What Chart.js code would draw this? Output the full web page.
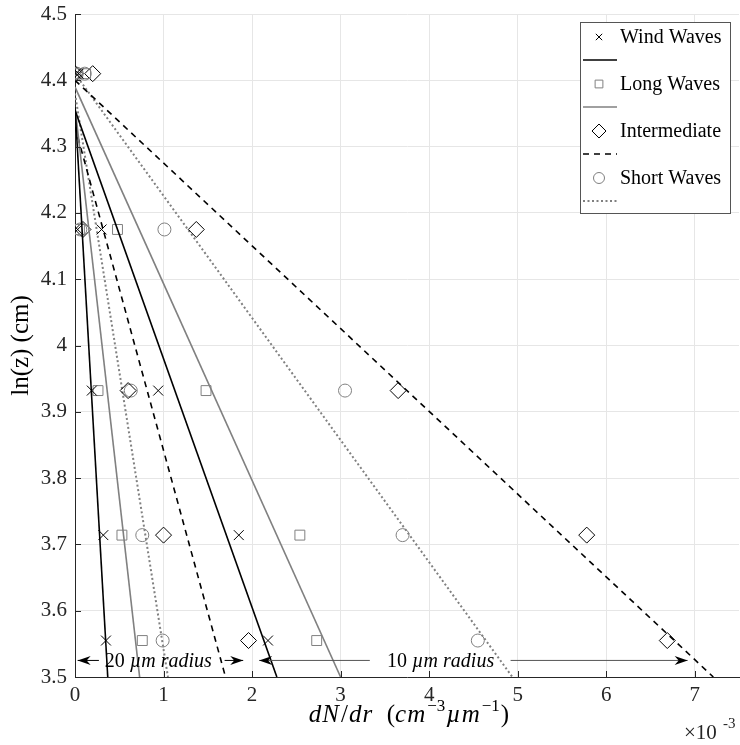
<!DOCTYPE html>
<html>
<head>
<meta charset="utf-8">
<script src="https://cdn.jsdelivr.net/npm/chart.js@4.4.0/dist/chart.umd.min.js"></script>
<style>
  html, body { margin: 0; padding: 0; background: #fff; }
  canvas { display: block; }
</style>
</head>
<body>
<canvas id="waveChart" width="740" height="745"></canvas>
<script>
// ln(z) of the five sampling heights
const yLevels = [4.41, 4.175, 3.932, 3.714, 3.555];

// dN/dr in units of 1e-3 cm^-3 um^-1, one value per height
const wind20 = [0.01, 0.03, 0.19, 0.32, 0.35];
const wind10 = [0.04, 0.30, 0.94, 1.85, 2.18];
const long20 = [0.03, 0.05, 0.26, 0.53, 0.76];
const long10 = [0.12, 0.48, 1.48, 2.54, 2.73];
const inter20 = [0.00, 0.09, 0.60, 1.00, 1.96];
const inter10 = [0.20, 1.37, 3.65, 5.78, 6.69];
const short20 = [0.02, 0.06, 0.63, 0.76, 0.99];
const short10 = [0.11, 1.01, 3.05, 3.70, 4.55];

// fitted lines: ln(z) where they leave x = 0, and x where they reach ln(z) = 3.5
const seriesNames = ["Wind Waves", "Long Waves", "Intermediate", "Short Waves"];
const fitTop20 = [4.36, 4.36, 4.33, 4.38];
const fitEnd20 = [0.37, 0.73, 1.70, 1.05];
const fitTop10 = [4.355, 4.39, 4.40, 4.41];
const fitEnd10 = [2.28, 3.00, 7.21, 4.94];

const xTicks = [0, 1, 2, 3, 4, 5, 6, 7];
const yTicks = [3.5, 3.6, 3.7, 3.8, 3.9, 4.0, 4.1, 4.2, 4.3, 4.4, 4.5];

// radius annotations
const radiusLabels = ["20", "10"];
const radiusLabelX = [0.94, 4.13];
const arrowY = 3.525;
const arrowTips = [[0.03, 1.90], [2.08, 6.92]];
const arrowTails = [[0.27, 1.69], [3.33, 4.92]];

const GRAY = "#808080";
const SERIF = "'Liberation Serif', 'Times New Roman', serif";

const styles = [
  { marker: "crossRot", r: 7, color: "#000", line: "#000", dash: [], lw: 1.6 },
  { marker: "rect", r: 7, color: GRAY, line: GRAY, dash: [], lw: 1.6 },
  { marker: "rectRot", r: 8, color: "#000", line: "#000", dash: [6, 5], lw: 1.6 },
  { marker: "circle", r: 6.5, color: GRAY, line: GRAY, dash: [2, 2.5], lw: 2 }
];

const pointSets20 = [wind20, long20, inter20, short20];
const pointSets10 = [wind10, long10, inter10, short10];

function pts(xs) {
  return xs.map((v, i) => ({ x: v, y: yLevels[i] }));
}

const datasets = [];
for (let i = 0; i < 4; i++) {
  const s = styles[i];
  [[fitTop20, fitEnd20], [fitTop10, fitEnd10]].forEach(([top, end]) => {
    datasets.push({
      label: seriesNames[i] + " fit",
      data: [{ x: 0, y: top[i] }, { x: end[i], y: 3.5 }],
      showLine: true,
      borderColor: s.line,
      borderWidth: s.lw,
      borderDash: s.dash,
      pointRadius: 0,
      fill: false
    });
  });
  [pointSets20[i], pointSets10[i]].forEach(xs => {
    datasets.push({
      label: seriesNames[i],
      data: pts(xs),
      showLine: false,
      pointStyle: s.marker,
      pointRadius: s.r,
      pointBorderColor: s.color,
      pointBackgroundColor: "rgba(0,0,0,0)",
      pointBorderWidth: 1
    });
  });
}

function drawArrowHead(ctx, tipX, tailX, y) {
  const dir = tipX > tailX ? 1 : -1;
  const len = 13, half = 4.5, notch = 4;
  ctx.beginPath();
  ctx.moveTo(tipX, y);
  ctx.lineTo(tipX - dir * len, y - half);
  ctx.lineTo(tipX - dir * (len - notch), y);
  ctx.lineTo(tipX - dir * len, y + half);
  ctx.closePath();
  ctx.fill();
}

function drawPieces(ctx, pieces, cx, baseY) {
  let total = 0;
  pieces.forEach(p => {
    ctx.font = p.font;
    p.w = ctx.measureText(p.t).width + (p.gap || 0);
    total += p.w;
  });
  let x = cx - total / 2;
  ctx.textAlign = "left";
  ctx.textBaseline = "alphabetic";
  pieces.forEach(p => {
    ctx.font = p.font;
    ctx.fillText(p.t, x, baseY + (p.dy || 0));
    x += p.w;
  });
}

const decor = {
  id: "decor",
  afterDraw(chart) {
    const { ctx, chartArea: a, scales } = chart;
    const x = scales.x, y = scales.y;
    ctx.save();

    // inward tick marks
    ctx.strokeStyle = "#262626";
    ctx.lineWidth = 1;
    ctx.beginPath();
    xTicks.forEach(v => {
      const px = Math.round(x.getPixelForValue(v)) + 0.5;
      ctx.moveTo(px, a.bottom);
      ctx.lineTo(px, a.bottom - 6);
    });
    yTicks.forEach(v => {
      const py = Math.round(y.getPixelForValue(v)) + 0.5;
      ctx.moveTo(a.left, py);
      ctx.lineTo(a.left + 6, py);
    });
    ctx.stroke();

    // radius arrows
    const ay = y.getPixelForValue(arrowY);
    for (let k = 0; k < 2; k++) {
      ctx.strokeStyle = k === 0 ? "#000" : "#555";
      ctx.fillStyle = "#000";
      ctx.lineWidth = 1;
      for (let j = 0; j < 2; j++) {
        const tip = x.getPixelForValue(arrowTips[k][j]);
        const tail = x.getPixelForValue(arrowTails[k][j]);
        ctx.beginPath();
        ctx.moveTo(tail, ay);
        ctx.lineTo(tip, ay);
        ctx.stroke();
        drawArrowHead(ctx, tip, tail, ay);
      }
      ctx.fillStyle = "#000";
      drawPieces(ctx, [
        { t: radiusLabels[k] + " ", font: "20px " + SERIF },
        { t: "\u00b5m radius", font: "italic 20px " + SERIF }
      ], x.getPixelForValue(radiusLabelX[k]), ay + 7);
    }

    // x axis title
    ctx.fillStyle = "#000";
    const it = "italic 25px " + SERIF, up = "25px " + SERIF, sup = "17px " + SERIF;
    drawPieces(ctx, [
      { t: "d", font: it, gap: 1 }, { t: "N", font: it, gap: 2 }, { t: "/", font: up, gap: 1 },
      { t: "d", font: it, gap: 1 }, { t: "r", font: it, gap: 2 },
      { t: "  (", font: up }, { t: "c", font: it, gap: 1 }, { t: "m", font: it, gap: 2 },
      { t: "\u22123", font: sup, dy: -11, gap: 1 },
      { t: "\u00b5", font: it, gap: 1 }, { t: "m", font: it, gap: 2 },
      { t: "\u22121", font: sup, dy: -11, gap: 1 }, { t: ")", font: up }
    ], (a.left + a.right) / 2 + 2, 722);

    // exponent
    ctx.fillStyle = "#262626";
    ctx.textAlign = "left";
    ctx.font = "21px " + SERIF;
    ctx.fillText("\u00d710", 684, 739);
    ctx.font = "15px " + SERIF;
    ctx.fillText("-3", 723, 728);

    // legend
    const lx = 580, ly = 22, lw = 150, lh = 191;
    ctx.fillStyle = "#fff";
    ctx.fillRect(lx, ly, lw, lh);
    ctx.strokeStyle = "#555";
    ctx.lineWidth = 1;
    ctx.strokeRect(lx + 0.5, ly + 0.5, lw, lh);
    const legendR = [4.5, 5.5, 7, 5.5];
    for (let i = 0; i < 4; i++) {
      const s = styles[i];
      const ty = ly + 15 + i * 47;
      ctx.lineWidth = 1;
      ctx.strokeStyle = s.color;
      ctx.fillStyle = "rgba(0,0,0,0)";
      Chart.helpers.drawPoint(ctx, { pointStyle: s.marker, radius: legendR[i], borderWidth: 1 }, lx + 19, ty);
      ctx.fillStyle = "#000";
      ctx.font = "20px " + SERIF;
      ctx.textAlign = "left";
      ctx.textBaseline = "middle";
      ctx.fillText(seriesNames[i], lx + 40, ty + 1);
      const sy = ty + 23;
      ctx.beginPath();
      ctx.strokeStyle = s.line;
      ctx.lineWidth = s.lw;
      ctx.setLineDash(s.dash);
      ctx.moveTo(lx + 3, sy);
      ctx.lineTo(lx + 37, sy);
      ctx.stroke();
      ctx.setLineDash([]);
    }
    ctx.restore();
  }
};

new Chart(document.getElementById("waveChart"), {
  type: "scatter",
  data: { datasets: datasets },
  options: {
    responsive: false,
    animation: false,
    layout: { autoPadding: false, padding: { top: 14, right: 1, left: 0, bottom: 0 } },
    plugins: {
      legend: { display: false },
      tooltip: { enabled: false }
    },
    scales: {
      x: {
        type: "linear",
        min: 0,
        max: 7.5,
        afterBuildTicks: scale => { scale.ticks = xTicks.map(v => ({ value: v })); },
        afterFit: scale => {
          scale.height = 68;
          scale.paddingLeft = 0;
          scale.paddingRight = 0;
        },
        ticks: {
          color: "#262626",
          font: { family: SERIF, size: 21 },
          padding: 6,
          maxRotation: 0,
          callback: v => String(v)
        },
        grid: { color: "#e6e6e6", drawTicks: false },
        border: { color: "#262626", width: 1 }
      },
      y: {
        type: "linear",
        min: 3.5,
        max: 4.5,
        afterBuildTicks: scale => { scale.ticks = yTicks.map(v => ({ value: v })); },
        afterFit: scale => {
          scale.width = 75;
          scale.paddingTop = 0;
          scale.paddingBottom = 0;
        },
        ticks: {
          color: "#262626",
          font: { family: SERIF, size: 21 },
          padding: 8,
          callback: v => (Math.abs(v - 4) < 1e-9 ? "4" : v.toFixed(1))
        },
        title: {
          display: true,
          text: "ln(z) (cm)",
          color: "#000",
          font: { family: SERIF, size: 25 },
          padding: { top: 6, bottom: 0 }
        },
        grid: { color: "#e6e6e6", drawTicks: false },
        border: { color: "#262626", width: 1 }
      }
    }
  },
  plugins: [decor]
});
</script>
</body>
</html>
